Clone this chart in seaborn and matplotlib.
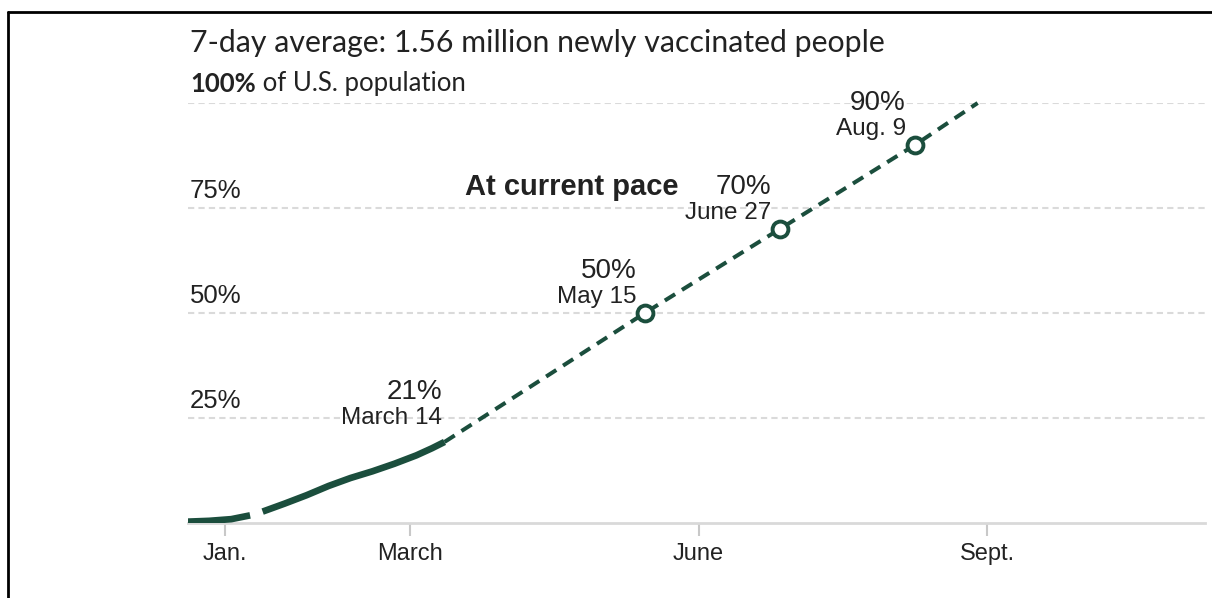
import pandas as pd
import numpy as np
import matplotlib.pyplot as plt
import matplotlib.transforms as mtransforms
from matplotlib.lines import Line2D
import seaborn as sns

sns.set_theme(style='white')
plt.rcParams['font.family'] = ['Liberation Sans', 'DejaVu Sans']

# Данные: доля вакцинированных (факт), с разрывом около 10-12 января
actual_dates = ['2020-12-20', '2020-12-27', '2021-01-03', '2021-01-09',
                '2021-01-13', '2021-01-20', '2021-01-27', '2021-02-03',
                '2021-02-10', '2021-02-17', '2021-02-24', '2021-03-03',
                '2021-03-08', '2021-03-12']
actual_pct = [0.2, 0.4, 0.8, 1.7, 2.6, 4.5, 6.5, 8.7, 10.6, 12.2, 14.0, 16.0, 17.7, 19.2]
actual_part = [1, 1, 1, 1, 2, 2, 2, 2, 2, 2, 2, 2, 2, 2]

# Прогноз при текущем темпе
proj_dates = ['2021-03-12', '2021-05-15', '2021-06-27', '2021-08-09', '2021-08-29']
proj_pct = [19.2, 50, 70, 90, 100]

# Подписи этапов
milestone_dates = ['2021-03-14', '2021-05-15', '2021-06-27', '2021-08-09']
milestone_pct = [21, 50, 70, 90]
milestone_labels = ['March 14', 'May 15', 'June 27', 'Aug. 9']
milestone_marker = [False, True, True, True]

month_ticks = ['2021-01-01', '2021-03-01', '2021-06-01', '2021-09-01']
month_labels = ['Jan.', 'March', 'June', 'Sept.']
y_ticks = [25, 50, 75, 100]

GREEN = '#1b4e3d'
TEXT = '#222222'

fig = plt.figure(figsize=(12.12, 5.98), dpi=100)
W, H = 1212, 598
ax = fig.add_axes([188 / W, 1 - 522.5 / H, (1205 - 188) / W, (522.5 - 103) / H])

actual_df = pd.DataFrame({'date': pd.to_datetime(actual_dates), 'pct': actual_pct, 'part': actual_part})
proj_df = pd.DataFrame({'date': pd.to_datetime(proj_dates), 'pct': proj_pct})
ms_df = pd.DataFrame({'date': pd.to_datetime(milestone_dates), 'pct': milestone_pct,
                      'label': milestone_labels, 'marker': milestone_marker})

sns.lineplot(data=proj_df, x='date', y='pct', color=GREEN, lw=2.9,
             linestyle=(0, (3, 2)), ax=ax, clip_on=False, zorder=3)
sns.lineplot(data=actual_df, x='date', y='pct', units='part', estimator=None,
             color=GREEN, lw=4.8, ax=ax, legend=False, zorder=4,
             solid_capstyle='butt', solid_joinstyle='round')
sns.scatterplot(data=ms_df[ms_df['marker']], x='date', y='pct', s=130, color='white',
                edgecolor=GREEN, linewidth=2.8, ax=ax, zorder=5, clip_on=False)

# оси
ax.set_xlim(pd.Timestamp('2021-01-01') - pd.Timedelta(days=11.8),
            pd.Timestamp('2021-01-01') + pd.Timedelta(days=312.5))
ax.set_ylim(0, 100)
ax.set_xlabel('')
ax.set_ylabel('')
ax.set_xticks(pd.to_datetime(month_ticks))
ax.set_xticklabels(month_labels)
ax.set_yticks(y_ticks)
ax.set_yticklabels([])
ax.tick_params(axis='y', length=0)
ax.tick_params(axis='x', length=9, width=1.5, color='#c8c8c8', pad=6,
               labelsize=17, labelcolor=TEXT, bottom=True)
for s in ['top', 'right', 'left']:
    ax.spines[s].set_visible(False)
ax.spines['bottom'].set_color('#d9d9d9')
ax.spines['bottom'].set_linewidth(2)
ax.grid(axis='y', color='#dadada', lw=1.5, linestyle=(0, (3, 2)))
ax.grid(axis='x', visible=False)
ax.set_axisbelow(True)

# подписи по оси Y над линиями сетки
blend = mtransforms.blended_transform_factory(ax.transAxes, ax.transData)
for v in y_ticks[:-1]:
    ax.annotate(f'{v}%', xy=(0, v), xycoords=blend, xytext=(2, 17),
                textcoords='offset pixels', ha='left', va='center',
                fontsize=18.5, color=TEXT)
t100 = ax.annotate('100%', xy=(0, 100), xycoords=blend, xytext=(2, 19),
                   textcoords='offset pixels', ha='left', va='center',
                   fontsize=18.5, fontweight='bold', color=TEXT, family=['Lato', 'DejaVu Sans'])
ax.annotate(' of U.S. population', xy=(1, 0), xycoords=t100, ha='left', va='bottom',
            fontsize=18.5, color=TEXT, family=['Lato', 'DejaVu Sans'])
ax.annotate('7-day average: 1.56 million newly vaccinated people', xy=(0, 100),
            xycoords=blend, xytext=(2, 60), textcoords='offset pixels',
            ha='left', va='center', fontsize=21.8, color=TEXT, family=['Lato', 'DejaVu Sans'])

# этапы
for _, r in ms_df.iterrows():
    ax.annotate(f"{r['pct']}%", xy=(r['date'], r['pct']), xytext=(-9, 42),
                textcoords='offset pixels', ha='right', va='center',
                fontsize=20, color=TEXT)
    ax.annotate(r['label'], xy=(r['date'], r['pct']), xytext=(-9, 16),
                textcoords='offset pixels', ha='right', va='center',
                fontsize=17.5, color=TEXT)

ax.text(0.272, 80, 'At current pace', transform=blend, ha='left', va='center',
        fontsize=21, fontweight='bold', color=TEXT)

# рамка
fig.add_artist(Line2D([8 / W, 1], [1 - 12 / H] * 2, transform=fig.transFigure, color='black', lw=2))
fig.add_artist(Line2D([8 / W] * 2, [0, 1 - 12 / H], transform=fig.transFigure, color='black', lw=2))

fig.savefig('out.png', dpi=100, facecolor='white')
